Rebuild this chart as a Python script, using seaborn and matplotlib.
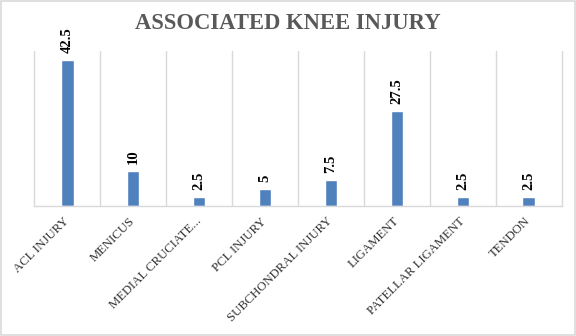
import numpy as np
import pandas as pd
import matplotlib
matplotlib.use("Agg")
import matplotlib.pyplot as plt
import seaborn as sns
from matplotlib.patches import Rectangle

# Data
title = "ASSOCIATED KNEE INJURY"
categories = ["ACL INJURY", "MENICUS", "MEDIAL CRUCIATE...", "PCL INJURY",
              "SUBCHONDRAL INJURY", "LIGAMENT", "PATELLAR LIGAMENT", "TENDON"]
percent = [42.5, 10, 2.5, 5, 7.5, 27.5, 2.5, 2.5]
value_labels = ["42.5", "10", "2.5", "5", "7.5", "27.5", "2.5", "2.5"]

SERIF = "Liberation Serif"
BAR = "#4F81BD"
GRID = "#D9D9D9"

sns.set_theme(style="white")
plt.rcParams["font.family"] = [SERIF]

W, H = 576, 336
fig = plt.figure(figsize=(W / 100, H / 100), dpi=100)
ax = fig.add_axes([34.3 / W, 130.3 / H, 527.4 / W, 154.4 / H])

df = pd.DataFrame({"injury": categories, "percent": percent})
sns.barplot(data=df, x="injury", y="percent", color=BAR, saturation=1,
            width=0.19, ax=ax)

# value labels above the bars
for i, (v, lab) in enumerate(zip(percent, value_labels)):
    ax.annotate(lab, (i, v), xytext=(0, 5), textcoords="offset points",
                rotation=90, ha="center", va="bottom", fontsize=10.5,
                fontweight="bold", color="black")

ax.set_xlim(-0.5, len(categories) - 0.5)
ax.set_ylim(0, 45)
ax.set_xticks(range(len(categories)))
ax.set_xticklabels(categories, rotation=45, ha="right", va="center",
                   rotation_mode="anchor", fontsize=9.2, color="#333333")
ax.set_xticks(np.arange(-0.5, len(categories), 1.0), minor=True)
ax.tick_params(axis="x", which="both", length=0, pad=10)
ax.set_yticks([])
ax.set_xlabel("")
ax.set_ylabel("")

# vertical separators between categories
ax.grid(False)
ax.grid(which="minor", axis="x", color=GRID, linewidth=1)
for t in ax.xaxis.get_minor_ticks():
    t.gridline.set_clip_on(False)
for s in ("left", "right", "top"):
    ax.spines[s].set_visible(False)
ax.spines["bottom"].set_color(GRID)
ax.spines["bottom"].set_linewidth(1)

fig.text(287.8 / W, 1 - 29.3 / H, title,
         ha="center", va="baseline", fontsize=16.3, fontweight="bold",
         color="#595959")

# chart frame
fig.add_artist(Rectangle((0.8 / W, 1.5 / H), (W - 2.3) / W, (H - 2.5) / H,
                         transform=fig.transFigure, fill=False,
                         edgecolor=GRID, linewidth=1.2))

fig.savefig("out.png", dpi=100, facecolor="white")
